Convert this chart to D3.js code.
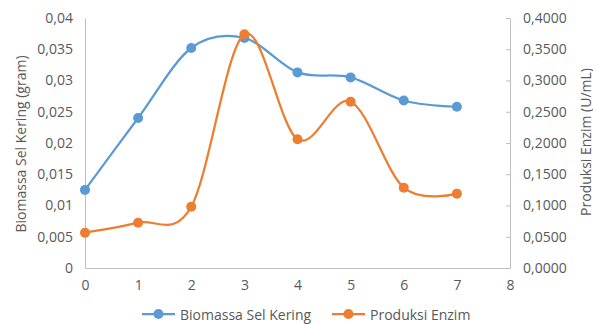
<!DOCTYPE html>
<html>
<head>
<meta charset="utf-8">
<script src="https://cdn.jsdelivr.net/npm/d3@7"></script>
<style>
  html, body { margin: 0; padding: 0; background: #fff; }
  svg { display: block; }
  text { font-family: "Open Sans", "Liberation Sans", sans-serif; fill: #595959; }
</style>
</head>
<body>
<svg id="chart" width="593" height="324"></svg>
<script>
// Time (x) and the two measured series
const days = [0, 1, 2, 3, 4, 5, 6, 7];
const biomassa = [0.0125, 0.0240, 0.0352, 0.0368, 0.0313, 0.0305, 0.0268, 0.0258];
const enzim = [0.0565, 0.0725, 0.0980, 0.3740, 0.2060, 0.2660, 0.1285, 0.1190];

const xTicks = [0, 1, 2, 3, 4, 5, 6, 7, 8];
const leftTicks = [0, 0.005, 0.01, 0.015, 0.02, 0.025, 0.03, 0.035, 0.04];
const leftTickLabels = ["0", "0,005", "0,01", "0,015", "0,02", "0,025", "0,03", "0,035", "0,04"];
const rightTicks = [0, 0.05, 0.1, 0.15, 0.2, 0.25, 0.3, 0.35, 0.4];
const rightTickLabels = ["0,0000", "0,0500", "0,1000", "0,1500", "0,2000", "0,2500", "0,3000", "0,3500", "0,4000"];

const seriesNames = ["Biomassa Sel Kering", "Produksi Enzim"];
const colors = ["#5B9BD5", "#ED7D31"];

const svg = d3.select("#chart");
const plot = { left: 85, right: 510, top: 18, bottom: 268 };

const x = d3.scaleLinear().domain([0, 8]).range([plot.left, plot.right]);
const yL = d3.scaleLinear().domain([0, 0.04]).range([plot.bottom, plot.top]);
const yR = d3.scaleLinear().domain([0, 0.4]).range([plot.bottom, plot.top]);

const axisColor = "#BFBFBF";
const fontSize = "14px";

// Left axis
const gL = svg.append("g").attr("transform", `translate(${plot.left},0)`)
  .call(d3.axisLeft(yL).tickValues(leftTicks).tickSize(0).tickPadding(12)
    .tickFormat((d, i) => leftTickLabels[i]));
gL.select(".domain").attr("stroke", axisColor).attr("stroke-width", 1);
gL.selectAll("text").style("font-size", fontSize).attr("fill", "#595959");

// Right axis
const gR = svg.append("g").attr("transform", `translate(${plot.right},0)`)
  .call(d3.axisRight(yR).tickValues(rightTicks).tickSizeInner(-4).tickSizeOuter(0).tickPadding(13)
    .tickFormat((d, i) => rightTickLabels[i]));
gR.select(".domain").attr("stroke", axisColor).attr("stroke-width", 1);
gR.selectAll(".tick line").attr("stroke", axisColor);
gR.selectAll("text").style("font-size", fontSize).attr("fill", "#595959");

// Bottom axis
const gB = svg.append("g").attr("transform", `translate(0,${plot.bottom})`)
  .call(d3.axisBottom(x).tickValues(xTicks).tickSize(0).tickPadding(12).tickFormat(d3.format("d")));
gB.select(".domain").attr("stroke", axisColor).attr("stroke-width", 1);
gB.selectAll("text").style("font-size", fontSize).attr("fill", "#595959");

// Axis titles
svg.append("text")
  .attr("transform", `translate(20,${(plot.top + plot.bottom) / 2 + 1}) rotate(-90)`)
  .attr("text-anchor", "middle").attr("dominant-baseline", "central")
  .style("font-size", fontSize)
  .text("Biomassa Sel Kering (gram)");
svg.append("text")
  .attr("transform", `translate(585,${(plot.top + plot.bottom) / 2 - 1}) rotate(-90)`)
  .attr("text-anchor", "middle").attr("dominant-baseline", "central")
  .style("font-size", fontSize)
  .text("Produksi Enzim (U/mL)");

// Smoothed series lines with markers
const series = [
  { name: seriesNames[0], values: biomassa, y: yL, color: colors[0] },
  { name: seriesNames[1], values: enzim, y: yR, color: colors[1] }
];

series.forEach(s => {
  const line = d3.line()
    .x((d, i) => x(days[i]))
    .y(d => s.y(d))
    .curve(d3.curveCatmullRom.alpha(0));
  svg.append("path")
    .datum(s.values)
    .attr("d", line)
    .attr("fill", "none")
    .attr("stroke", s.color)
    .attr("stroke-width", 2.25)
    .attr("stroke-linecap", "round");
  svg.append("g").selectAll("circle")
    .data(s.values)
    .join("circle")
    .attr("cx", (d, i) => x(days[i]))
    .attr("cy", d => s.y(d))
    .attr("r", 5)
    .attr("fill", s.color);
});

// Legend
const legendY = 314;
const legendItems = [
  { x: 142, label: seriesNames[0], color: colors[0] },
  { x: 332, label: seriesNames[1], color: colors[1] }
];
legendItems.forEach(l => {
  const g = svg.append("g").attr("transform", `translate(${l.x},${legendY})`);
  g.append("line").attr("x1", 0).attr("x2", 33).attr("y1", 0).attr("y2", 0)
    .attr("stroke", l.color).attr("stroke-width", 2.25);
  g.append("circle").attr("cx", 16.5).attr("cy", 0).attr("r", 5).attr("fill", l.color);
  g.append("text").attr("x", 38).attr("y", 0).attr("dominant-baseline", "central")
    .style("font-size", fontSize).text(l.label);
});
</script>
</body>
</html>
